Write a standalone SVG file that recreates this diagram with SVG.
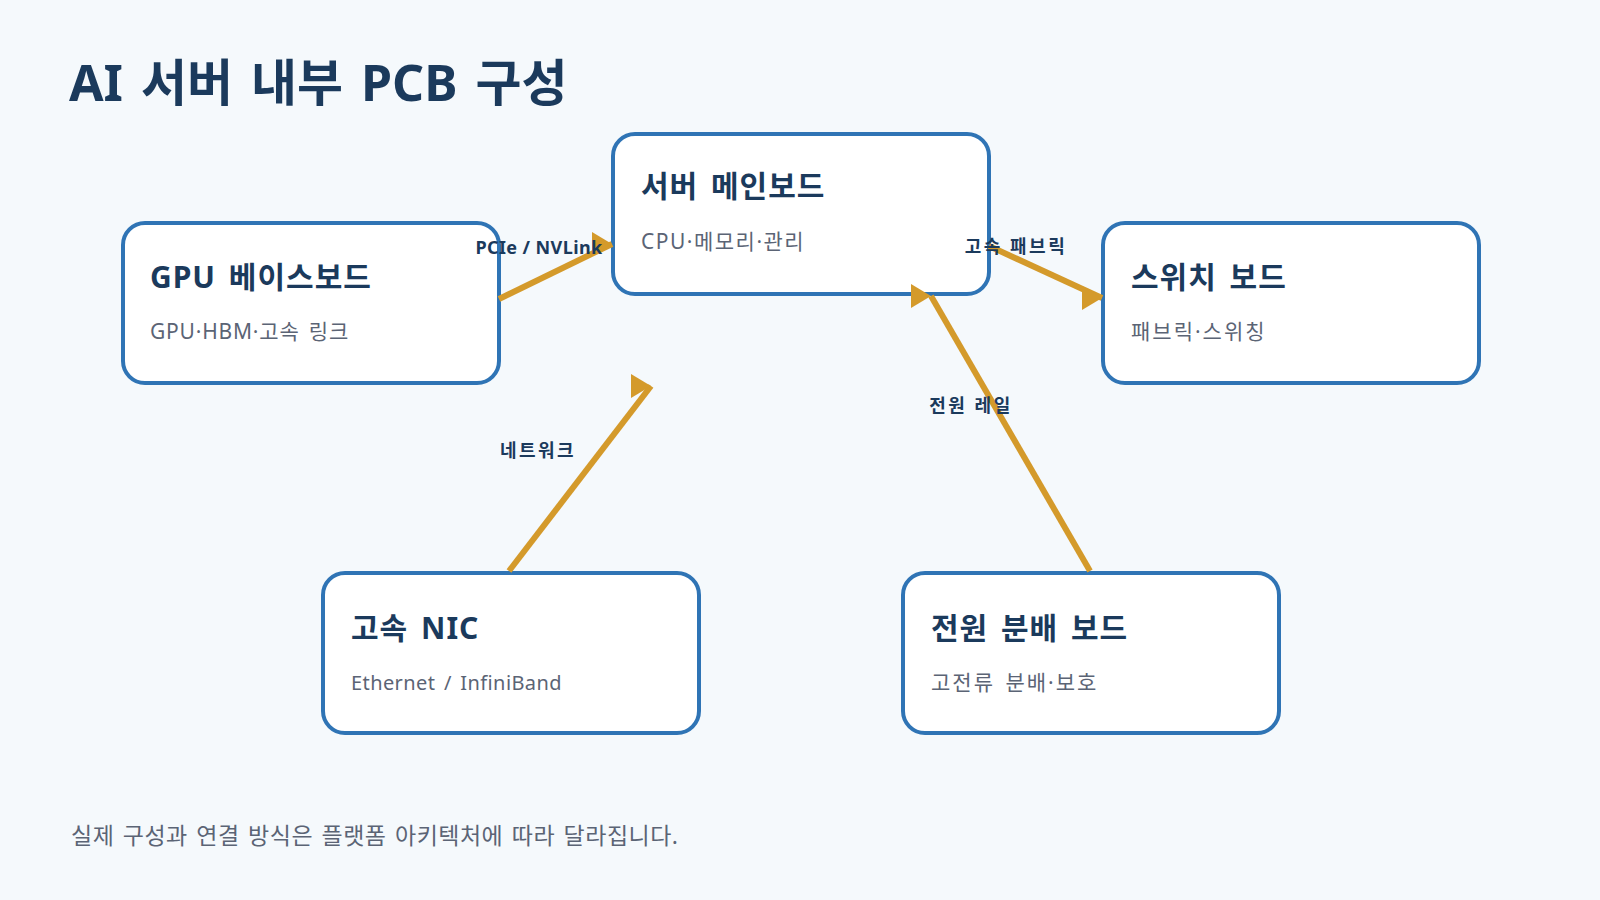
<svg xmlns="http://www.w3.org/2000/svg" width="1600" height="900" viewBox="0 0 1600 900">
<style>
.bg{fill:#f5f9fc}
.box{fill:#ffffff;stroke:#2f74b5;stroke-width:4}
.t{font-family:"Noto Sans","Noto Sans CJK KR",sans-serif;font-weight:700;fill:#1b3a5c;font-size:30px;letter-spacing:1px;word-spacing:4px}
.s{font-family:"Noto Sans","Noto Sans CJK KR",sans-serif;fill:#5b6475;font-size:21px;letter-spacing:1.5px;word-spacing:3px}
.lbl{font-family:"Noto Sans","Noto Sans CJK KR",sans-serif;font-weight:700;fill:#1b3a5c;font-size:18px;letter-spacing:2.5px;text-anchor:middle}
.edge{stroke:#d49a2b;stroke-width:6;fill:none;marker-end:url(#ah)}
.title{font-family:"Noto Sans","Noto Sans CJK KR",sans-serif;font-weight:700;fill:#1b3a5c;font-size:50px;word-spacing:5px}
.foot{font-family:"Noto Sans","Noto Sans CJK KR",sans-serif;fill:#5b6475;font-size:23px;letter-spacing:0.5px;word-spacing:2px}
</style>
<defs>
<marker id="ah" markerUnits="userSpaceOnUse" markerWidth="20" markerHeight="24" refX="20" refY="12" orient="0" viewBox="0 0 20 24">
<path d="M0,0 L20,12 L0,24 z" fill="#d49a2b"/>
</marker>
</defs>
<rect class="bg" x="0" y="0" width="1600" height="900"/>
<text class="title" x="69" y="101">AI 서버 내부 PCB 구성</text>
<g id="gpu">
<rect class="box" x="123" y="223" width="376" height="160" rx="22"/>
<text class="t" x="150" y="288">GPU 베이스보드</text>
<text class="s" x="150" y="339" style="letter-spacing:0.8px">GPU·HBM·고속 링크</text>
</g>
<g id="main">
<rect class="box" x="613" y="134" width="376" height="160" rx="22"/>
<text class="t" x="641" y="197">서버 메인보드</text>
<text class="s" x="641" y="249">CPU·메모리·관리</text>
</g>
<g id="switch">
<rect class="box" x="1103" y="223" width="376" height="160" rx="22"/>
<text class="t" x="1131" y="288">스위치 보드</text>
<text class="s" x="1131" y="339" style="letter-spacing:2px">패브릭·스위칭</text>
</g>
<g id="nic">
<rect class="box" x="323" y="573" width="376" height="160" rx="22"/>
<text class="t" x="351" y="639">고속 NIC</text>
<text class="s" x="351" y="690" style="font-size:20px;letter-spacing:0.4px">Ethernet / InfiniBand</text>
</g>
<g id="power">
<rect class="box" x="903" y="573" width="376" height="160" rx="22"/>
<text class="t" x="931" y="639">전원 분배 보드</text>
<text class="s" x="931" y="690" style="letter-spacing:2px">고전류 분배·보호</text>
</g>
<g id="connectors">
<line class="edge" x1="499" y1="299" x2="612" y2="244"/>
<line class="edge" x1="989" y1="246" x2="1102" y2="298"/>
<line class="edge" x1="509" y1="571" x2="651" y2="386"/>
<line class="edge" x1="1090" y1="571" x2="931" y2="296"/>
<text class="lbl" x="539" y="254" style="letter-spacing:0.4px">PCIe / NVLink</text>
<text class="lbl" x="1016" y="253">고속 패브릭</text>
<text class="lbl" x="538" y="457">네트워크</text>
<text class="lbl" x="971" y="412">전원 레일</text>
</g>
<text class="foot" x="71" y="844">실제 구성과 연결 방식은 플랫폼 아키텍처에 따라 달라집니다.</text>
</svg>
